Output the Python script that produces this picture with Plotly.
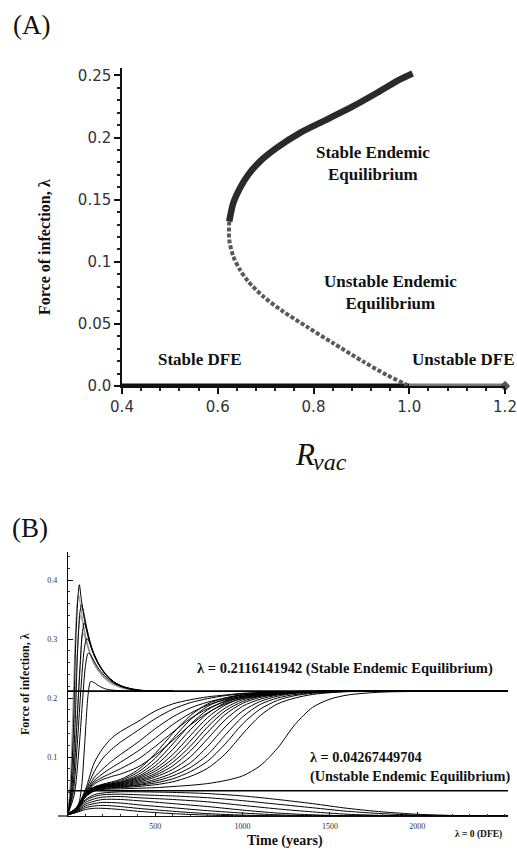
import plotly.graph_objects as go

# ---------------- Panel A data ----------------
rvac_stable = [0.624, 0.6325, 0.6465, 0.6638, 0.6883, 0.7231, 0.7718, 0.8276, 0.8831, 0.9389, 0.9807, 1.007]
lam_stable = [0.1325, 0.1473, 0.1594, 0.1702, 0.1809, 0.1917, 0.2038, 0.2145, 0.2253, 0.2374, 0.2468, 0.2516]
rvac_unstable = [0.624, 0.624, 0.6325, 0.6465, 0.6638, 0.6952, 0.7369, 0.7858, 0.8414, 0.904, 0.9529, 0.991, 1.0]
lam_unstable = [0.1325, 0.1177, 0.1043, 0.0935, 0.0841, 0.0720, 0.0599, 0.0478, 0.0344, 0.0196, 0.0089, 0.0016, 0.0]
rvac_dfe_stable = [0.4, 1.0]
lam_dfe_stable = [0.0, 0.0]
rvac_dfe_unstable = [1.0, 1.2]
lam_dfe_unstable = [0.0, 0.0]
a_xtick_vals = [0.4, 0.6, 0.8, 1.0, 1.2]
a_xtick_text = ["0.4", "0.6", "0.8", "1.0", "1.2"]
a_ytick_vals = [0.0, 0.05, 0.1, 0.15, 0.2, 0.25]
a_ytick_text = ["0.0", "0.05", "0.1", "0.15", "0.2", "0.25"]

# ---------------- Panel B data ----------------
lam_stable_ee = 0.2116141942
lam_unstable_ee = 0.04267449704
t_end = 2520

# spike trajectories (black)
spike_t = [
    [0, 15, 30, 45, 58, 65, 75, 90, 110, 140, 180, 230, 290, 380, 460, 600],
    [0, 20, 40, 55, 68, 78, 90, 110, 140, 180, 230, 290, 380, 460, 600],
    [0, 25, 50, 68, 82, 93, 105, 125, 150, 190, 240, 300, 380, 460, 600],
    [0, 30, 55, 75, 92, 107, 120, 140, 170, 210, 260, 320, 400, 480, 600],
    [0, 35, 62, 82, 100, 116, 130, 150, 180, 220, 270, 330, 400, 480, 600],
    [0, 30, 60, 78, 95, 116, 130, 150, 180, 220, 270, 330, 420, 600],
]
spike_lam = [
    [0.005, 0.04, 0.14, 0.30, 0.375, 0.392, 0.37, 0.34, 0.31, 0.28, 0.255, 0.235, 0.222, 0.214, 0.212, 0.2116],
    [0.004, 0.04, 0.15, 0.28, 0.345, 0.358, 0.345, 0.315, 0.282, 0.256, 0.236, 0.222, 0.214, 0.212, 0.2116],
    [0.004, 0.04, 0.15, 0.25, 0.31, 0.327, 0.318, 0.295, 0.272, 0.25, 0.232, 0.221, 0.214, 0.212, 0.2116],
    [0.004, 0.04, 0.13, 0.22, 0.28, 0.301, 0.296, 0.28, 0.26, 0.242, 0.228, 0.219, 0.214, 0.212, 0.2116],
    [0.004, 0.035, 0.11, 0.19, 0.255, 0.276, 0.273, 0.262, 0.248, 0.235, 0.224, 0.217, 0.213, 0.212, 0.2116],
    [0.003, 0.008, 0.02, 0.05, 0.12, 0.208, 0.228, 0.226, 0.22, 0.215, 0.213, 0.212, 0.2116, 0.2116],
]
# spike trajectories (grey)
grey_t = [
    [0, 12, 25, 40, 52, 60, 70, 85, 105, 135, 175, 230, 300, 400, 600],
    [0, 15, 30, 45, 60, 72, 82, 95, 115, 145, 185, 240, 310, 400, 600],
    [0, 18, 35, 52, 70, 85, 95, 110, 130, 160, 200, 250, 320, 400, 600],
]
grey_lam = [
    [0.01, 0.05, 0.15, 0.29, 0.36, 0.375, 0.36, 0.33, 0.30, 0.27, 0.248, 0.23, 0.219, 0.213, 0.2116],
    [0.008, 0.04, 0.12, 0.23, 0.31, 0.34, 0.33, 0.31, 0.285, 0.26, 0.242, 0.227, 0.218, 0.213, 0.2116],
    [0.006, 0.03, 0.09, 0.17, 0.25, 0.31, 0.305, 0.29, 0.272, 0.252, 0.236, 0.224, 0.216, 0.213, 0.2116],
]

# early fan + late bundle (rise to the stable endemic equilibrium)
fan_t = [0, 50, 100, 150, 200, 250, 300, 400, 500, 600, 700, 800, 900, 1000, 1200, 1400, 2520]
fan_lam = [
    [0.004, 0.015, 0.045, 0.09, 0.115, 0.132, 0.143, 0.16, 0.178, 0.19, 0.197, 0.202, 0.205, 0.208, 0.210, 0.211, 0.2116],
    [0.004, 0.014, 0.042, 0.075, 0.098, 0.113, 0.125, 0.145, 0.165, 0.181, 0.192, 0.199, 0.204, 0.207, 0.210, 0.211, 0.2116],
    [0.004, 0.013, 0.04, 0.065, 0.08, 0.093, 0.104, 0.125, 0.148, 0.168, 0.183, 0.193, 0.2, 0.205, 0.209, 0.211, 0.2116],
    [0.003, 0.012, 0.038, 0.06, 0.072, 0.082, 0.091, 0.11, 0.132, 0.155, 0.174, 0.188, 0.197, 0.203, 0.208, 0.211, 0.2116],
    [0.003, 0.011, 0.036, 0.057, 0.066, 0.073, 0.08, 0.096, 0.118, 0.142, 0.165, 0.182, 0.194, 0.201, 0.207, 0.210, 0.2116],
    [0.003, 0.01, 0.034, 0.054, 0.062, 0.067, 0.071, 0.083, 0.103, 0.128, 0.154, 0.175, 0.19, 0.199, 0.206, 0.210, 0.2116],
]
bundle_t = [0, 50, 100, 150, 200, 300, 400, 500, 600, 700, 800, 900, 1000, 1100, 1200, 1300, 1400, 1500, 1600, 1800, 2520]
bundle_lam = [
    [0.003, 0.014, 0.038, 0.049, 0.054, 0.062, 0.078, 0.106, 0.14, 0.17, 0.19, 0.2, 0.206, 0.209, 0.21, 0.211, 0.2113, 0.2115, 0.2116, 0.2116, 0.2116],
    [0.003, 0.014, 0.038, 0.049, 0.053, 0.06, 0.074, 0.098, 0.131, 0.163, 0.186, 0.198, 0.205, 0.208, 0.21, 0.211, 0.2113, 0.2115, 0.2116, 0.2116, 0.2116],
    [0.003, 0.014, 0.038, 0.048, 0.052, 0.058, 0.07, 0.091, 0.122, 0.155, 0.18, 0.195, 0.203, 0.207, 0.21, 0.211, 0.2113, 0.2115, 0.2116, 0.2116, 0.2116],
    [0.003, 0.013, 0.037, 0.048, 0.052, 0.057, 0.067, 0.085, 0.113, 0.146, 0.174, 0.192, 0.202, 0.207, 0.209, 0.211, 0.2113, 0.2115, 0.2116, 0.2116, 0.2116],
    [0.003, 0.013, 0.037, 0.047, 0.051, 0.056, 0.065, 0.08, 0.104, 0.136, 0.167, 0.188, 0.2, 0.206, 0.209, 0.211, 0.2113, 0.2115, 0.2116, 0.2116, 0.2116],
    [0.003, 0.013, 0.036, 0.047, 0.051, 0.055, 0.063, 0.076, 0.097, 0.127, 0.159, 0.183, 0.197, 0.204, 0.208, 0.21, 0.211, 0.2115, 0.2116, 0.2116, 0.2116],
    [0.003, 0.013, 0.036, 0.046, 0.05, 0.054, 0.061, 0.072, 0.091, 0.118, 0.151, 0.178, 0.194, 0.203, 0.207, 0.21, 0.211, 0.2115, 0.2116, 0.2116, 0.2116],
    [0.003, 0.012, 0.035, 0.046, 0.05, 0.053, 0.059, 0.069, 0.085, 0.11, 0.142, 0.172, 0.191, 0.201, 0.206, 0.209, 0.211, 0.2113, 0.2116, 0.2116, 0.2116],
    [0.003, 0.012, 0.035, 0.045, 0.049, 0.052, 0.057, 0.066, 0.079, 0.1, 0.131, 0.163, 0.186, 0.198, 0.205, 0.209, 0.211, 0.2113, 0.2116, 0.2116, 0.2116],
    [0.003, 0.012, 0.034, 0.045, 0.049, 0.051, 0.055, 0.062, 0.073, 0.09, 0.118, 0.151, 0.178, 0.194, 0.203, 0.208, 0.21, 0.211, 0.2115, 0.2116, 0.2116],
    [0.003, 0.012, 0.034, 0.044, 0.048, 0.05, 0.053, 0.059, 0.068, 0.082, 0.104, 0.137, 0.168, 0.189, 0.2, 0.206, 0.209, 0.211, 0.2115, 0.2116, 0.2116],
    [0.003, 0.011, 0.033, 0.044, 0.047, 0.049, 0.052, 0.056, 0.063, 0.075, 0.093, 0.122, 0.156, 0.181, 0.196, 0.204, 0.208, 0.21, 0.211, 0.2116, 0.2116],
    [0.003, 0.011, 0.033, 0.043, 0.046, 0.048, 0.05, 0.053, 0.058, 0.067, 0.081, 0.105, 0.139, 0.17, 0.19, 0.2, 0.206, 0.209, 0.211, 0.2116, 0.2116],
    [0.003, 0.011, 0.032, 0.042, 0.045, 0.046, 0.047, 0.048, 0.05, 0.052, 0.055, 0.06, 0.068, 0.085, 0.115, 0.155, 0.184, 0.198, 0.205, 0.21, 0.2116],
]
# trajectories decaying to the DFE
low_t = [0, 50, 100, 150, 200, 300, 400, 600, 800, 1000, 1200, 1400, 1600, 1800, 2000, 2200, 2520]
low_lam = [
    [0.003, 0.012, 0.028, 0.036, 0.039, 0.041, 0.041, 0.04, 0.038, 0.034, 0.028, 0.021, 0.013, 0.007, 0.003, 0.001, 0.0],
    [0.003, 0.011, 0.026, 0.033, 0.036, 0.037, 0.036, 0.034, 0.031, 0.026, 0.02, 0.014, 0.008, 0.004, 0.0015, 0.0005, 0.0],
    [0.003, 0.01, 0.023, 0.029, 0.032, 0.033, 0.031, 0.028, 0.024, 0.018, 0.012, 0.007, 0.003, 0.001, 0.0, 0.0, 0.0],
    [0.002, 0.009, 0.02, 0.025, 0.028, 0.028, 0.026, 0.021, 0.016, 0.01, 0.005, 0.002, 0.0005, 0.0, 0.0, 0.0, 0.0],
    [0.002, 0.008, 0.017, 0.021, 0.023, 0.022, 0.019, 0.014, 0.009, 0.005, 0.002, 0.0005, 0.0, 0.0, 0.0, 0.0, 0.0],
    [0.002, 0.007, 0.014, 0.017, 0.018, 0.016, 0.013, 0.008, 0.004, 0.0015, 0.0003, 0.0, 0.0, 0.0, 0.0, 0.0, 0.0],
    [0.002, 0.006, 0.011, 0.013, 0.013, 0.011, 0.008, 0.004, 0.0015, 0.0003, 0.0, 0.0, 0.0, 0.0, 0.0, 0.0, 0.0],
]
b_xtick_vals = [500, 1000, 1500, 2000]
b_xtick_text = ["500", "1000", "1500", "2000"]
b_ytick_vals = [0.1, 0.2, 0.3, 0.4]
b_ytick_text = ["0.1", "0.2", "0.3", "0.4"]

# ---------------- Figure ----------------
W, H = 517, 856
SERIF = "Liberation Serif, Times New Roman, serif"
SANS = "DejaVu Sans, Verdana, sans-serif"


def px(x):
    return x / W


def py(y):
    return 1 - y / H


fig = go.Figure()

# Panel A traces
fig.add_trace(go.Scatter(x=rvac_dfe_stable, y=lam_dfe_stable, mode="lines",
                         line=dict(color="#111111", width=5), xaxis="x", yaxis="y",
                         cliponaxis=False, showlegend=False))
fig.add_trace(go.Scatter(x=rvac_dfe_unstable, y=lam_dfe_unstable, mode="lines",
                         line=dict(color="#777777", width=5), xaxis="x", yaxis="y",
                         cliponaxis=False, showlegend=False))
fig.add_trace(go.Scatter(x=[rvac_dfe_unstable[-1]], y=[lam_dfe_unstable[-1]], mode="markers",
                         marker=dict(symbol="diamond", size=8, color="#555555"),
                         xaxis="x", yaxis="y", cliponaxis=False, showlegend=False))
fig.add_trace(go.Scatter(x=rvac_unstable, y=lam_unstable, mode="lines",
                         line=dict(color="#5a5a5a", width=4, shape="spline", smoothing=0.8, dash="4px,2px"),
                         xaxis="x", yaxis="y", cliponaxis=False, showlegend=False))
fig.add_trace(go.Scatter(x=rvac_stable, y=lam_stable, mode="lines",
                         line=dict(color="#2a2a2a", width=6.5, shape="spline", smoothing=0.8),
                         xaxis="x", yaxis="y", cliponaxis=False, showlegend=False))


# Panel B traces
def add_b(t, lam, color="#000000", width=1.0):
    fig.add_trace(go.Scatter(x=t, y=lam, mode="lines",
                             line=dict(color=color, width=width, shape="spline", smoothing=0.8),
                             xaxis="x2", yaxis="y2", showlegend=False))


for lam in low_lam:
    add_b(low_t, lam)
for lam in bundle_lam:
    add_b(bundle_t, lam)
for lam in fan_lam:
    add_b(fan_t, lam)
for t, lam in zip(grey_t, grey_lam):
    add_b(t, lam, color="#8c8c8c")
for t, lam in zip(spike_t, spike_lam):
    add_b(t, lam)
add_b([0, t_end], [lam_stable_ee, lam_stable_ee], width=1.6)
add_b([0, t_end], [lam_unstable_ee, lam_unstable_ee], width=1.4)

a_xminor = [round(0.4 + 0.04 * i, 2) for i in range(21)]
a_yminor = [round(0.01 * i, 2) for i in range(26)]
b_xminor = [100 * i for i in range(26)]
b_yminor = [round(0.02 * i, 2) for i in range(23)]

fig.update_layout(
    width=W, height=H,
    margin=dict(l=0, r=0, t=0, b=0),
    paper_bgcolor="white", plot_bgcolor="white",
    showlegend=False,
    xaxis=dict(domain=[px(122), px(505)], range=[0.4, 1.2], anchor="y",
               showline=True, linecolor="#111", linewidth=1.5, showgrid=False, zeroline=False,
               tickmode="array", tickvals=a_xtick_vals, ticktext=a_xtick_text,
               ticks="outside", ticklen=6, tickcolor="#111", tickwidth=1.5,
               minor=dict(tickmode="array", tickvals=a_xminor, ticks="outside", ticklen=3,
                          tickcolor="#222", showgrid=False),
               tickfont=dict(family=SANS, size=15, color="#333"), automargin=False,
               ticklabeloverflow="allow"),
    yaxis=dict(domain=[py(386), py(68)], range=[0, 0.256], anchor="x",
               showline=True, linecolor="#111", linewidth=1.5, showgrid=False, zeroline=False,
               tickmode="array", tickvals=a_ytick_vals, ticktext=a_ytick_text,
               ticks="outside", ticklen=6, tickcolor="#111", tickwidth=1.5,
               minor=dict(tickmode="array", tickvals=a_yminor, ticks="outside", ticklen=3,
                          tickcolor="#222", showgrid=False),
               tickfont=dict(family=SANS, size=15, color="#333"), automargin=False,
               ticklabeloverflow="allow"),
    xaxis2=dict(domain=[px(68), px(508)], range=[0, t_end], anchor="y2",
                showline=True, linecolor="#111", linewidth=1.2, showgrid=False, zeroline=False,
                tickmode="array", tickvals=b_xtick_vals, ticktext=b_xtick_text,
                ticks="inside", ticklen=4, tickcolor="#111",
                minor=dict(tickmode="array", tickvals=b_xminor, ticks="inside", ticklen=2,
                           tickcolor="#333", showgrid=False),
                tickfont=dict(family=SERIF, size=8, color="#333"), ticklabelstandoff=2, automargin=False,
                ticklabeloverflow="allow"),
    yaxis2=dict(domain=[py(816), py(551.7)], range=[0, 0.448], anchor="x2",
                showline=True, linecolor="#111", linewidth=1.2, showgrid=False, zeroline=False,
                tickmode="array", tickvals=b_ytick_vals, ticktext=b_ytick_text,
                ticks="inside", ticklen=5, tickcolor="#111",
                minor=dict(tickmode="array", tickvals=b_yminor, ticks="inside", ticklen=2,
                           tickcolor="#333", showgrid=False),
                tickfont=dict(family=SERIF, size=8, color="#333"), ticklabelstandoff=8, automargin=False,
                ticklabeloverflow="allow"),
)

# x-axis of panel B extends slightly left of the y-axis
fig.add_shape(type="line", xref="paper", yref="paper", x0=px(58), x1=px(68), y0=py(816), y1=py(816),
              line=dict(color="#111", width=1.2))

ann = []


def add_text(text, x, y, size, family=SERIF, xanchor="center", yanchor="middle", angle=0, align="center", color="#111"):
    ann.append(dict(text=text, x=px(x), y=py(y), xref="paper", yref="paper", showarrow=False,
                    xanchor=xanchor, yanchor=yanchor, textangle=angle, align=align,
                    font=dict(family=family, size=size, color=color)))


# panel labels
add_text("(A)", 31, 25, 27)
add_text("(B)", 30, 528, 27)
# panel A texts
add_text("<b>Force of infection, λ</b>", 45, 247, 16, angle=-90)
add_text("<i>R</i>", 305, 454, 31)
add_text("<i>vac</i>", 330, 462, 24)
add_text("<b>Stable Endemic<br>Equilibrium</b>", 373, 163, 17)
add_text("<b>Unstable Endemic<br>Equilibrium</b>", 390, 292, 17)
add_text("<b>Stable DFE</b>", 200, 360, 17)
add_text("<b>Unstable DFE</b>", 463, 360, 17)
# panel B texts
add_text("<b>Force of infection, λ</b>", 25, 684, 12, angle=-90)
add_text("<b>Time (years)</b>", 285, 841, 14)
add_text("<b>λ = 0 (DFE)</b>", 478, 834, 9.5)
add_text("<b>λ = 0.2116141942 (Stable Endemic Equilibrium)</b>", 345, 668, 14.5)
add_text("<b>λ = 0.04267449704<br>(Unstable Endemic Equilibrium)</b>", 308, 767, 14.3,
         xanchor="left", align="left")
fig.update_layout(annotations=ann)

fig.write_html("out.html")
